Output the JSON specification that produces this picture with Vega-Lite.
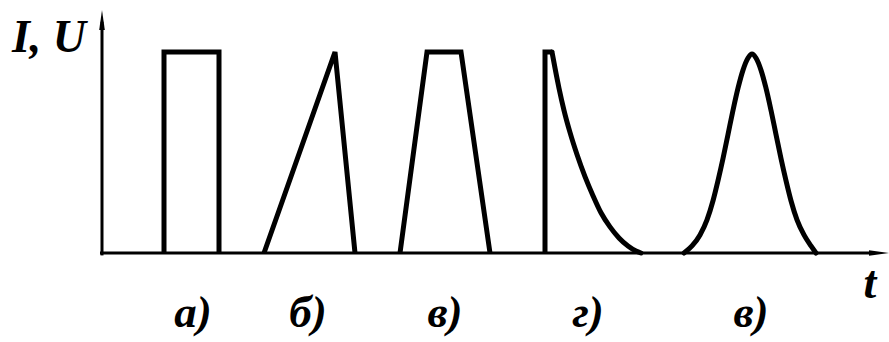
{
  "$schema": "https://vega.github.io/schema/vega-lite/v6.json",
  "width": 889,
  "height": 342,
  "autosize": {"type": "fit", "contains": "padding"},
  "padding": 0,
  "background": "white",
  "config": {"view": {"stroke": null}},
  "datasets": {
    "axes": [
      {"axis": "I", "t": 102, "v": -0.012, "t2": 102, "v2": 1.15},
      {"axis": "t", "t": 100, "v": 0, "t2": 872, "v2": 0}
    ],
    "arrows": [
      {"axis": "I", "t": 102, "v": 1.159, "dir": "up"},
      {"axis": "t", "t": 879, "v": 0, "dir": "right"}
    ],
    "straight": [
      {"pulse": "а", "i": 0, "t": 164, "v": 0},
      {"pulse": "а", "i": 1, "t": 164, "v": 1},
      {"pulse": "а", "i": 2, "t": 219, "v": 1},
      {"pulse": "а", "i": 3, "t": 219, "v": 0},
      {"pulse": "б", "i": 0, "t": 264, "v": 0},
      {"pulse": "б", "i": 1, "t": 335, "v": 1},
      {"pulse": "б", "i": 2, "t": 355, "v": 0},
      {"pulse": "в", "i": 0, "t": 400, "v": 0},
      {"pulse": "в", "i": 1, "t": 427, "v": 1},
      {"pulse": "в", "i": 2, "t": 461, "v": 1},
      {"pulse": "в", "i": 3, "t": 490, "v": 0},
      {"pulse": "г", "i": 0, "t": 545, "v": 0},
      {"pulse": "г", "i": 1, "t": 545, "v": 1},
      {"pulse": "г", "i": 2, "t": 552, "v": 1}
    ],
    "curves": [
      {"pulse": "г", "t": 552, "v": 1.0},
      {"pulse": "г", "t": 555, "v": 0.92},
      {"pulse": "г", "t": 559, "v": 0.82},
      {"pulse": "г", "t": 564, "v": 0.71},
      {"pulse": "г", "t": 570, "v": 0.6},
      {"pulse": "г", "t": 577, "v": 0.49},
      {"pulse": "г", "t": 585, "v": 0.38},
      {"pulse": "г", "t": 593, "v": 0.285},
      {"pulse": "г", "t": 601, "v": 0.2},
      {"pulse": "г", "t": 610, "v": 0.13},
      {"pulse": "г", "t": 619, "v": 0.075},
      {"pulse": "г", "t": 628, "v": 0.035},
      {"pulse": "г", "t": 636, "v": 0.01},
      {"pulse": "г", "t": 641, "v": 0.0},
      {"pulse": "д", "t": 684, "v": 0.0},
      {"pulse": "д", "t": 692, "v": 0.035},
      {"pulse": "д", "t": 700, "v": 0.09},
      {"pulse": "д", "t": 707, "v": 0.165},
      {"pulse": "д", "t": 713, "v": 0.26},
      {"pulse": "д", "t": 718, "v": 0.36},
      {"pulse": "д", "t": 723, "v": 0.47},
      {"pulse": "д", "t": 728, "v": 0.59},
      {"pulse": "д", "t": 733, "v": 0.71},
      {"pulse": "д", "t": 738, "v": 0.82},
      {"pulse": "д", "t": 743, "v": 0.91},
      {"pulse": "д", "t": 748, "v": 0.97},
      {"pulse": "д", "t": 752, "v": 0.99},
      {"pulse": "д", "t": 756, "v": 0.97},
      {"pulse": "д", "t": 761, "v": 0.91},
      {"pulse": "д", "t": 766, "v": 0.82},
      {"pulse": "д", "t": 771, "v": 0.71},
      {"pulse": "д", "t": 776, "v": 0.59},
      {"pulse": "д", "t": 781, "v": 0.47},
      {"pulse": "д", "t": 786, "v": 0.36},
      {"pulse": "д", "t": 791, "v": 0.26},
      {"pulse": "д", "t": 797, "v": 0.165},
      {"pulse": "д", "t": 804, "v": 0.09},
      {"pulse": "д", "t": 811, "v": 0.035},
      {"pulse": "д", "t": 816, "v": 0.0}
    ],
    "captions": [
      {"label": "а)", "t": 193, "v": -0.37},
      {"label": "б)", "t": 308, "v": -0.37},
      {"label": "в)", "t": 445, "v": -0.37},
      {"label": "г)", "t": 588, "v": -0.37},
      {"label": "в)", "t": 751, "v": -0.37}
    ],
    "axisTitles": [
      {"label": "I, U", "t": 49, "v": 1.0},
      {"label": "t", "t": 870, "v": -0.224}
    ]
  },
  "encoding": {
    "x": {"field": "t", "type": "quantitative", "scale": {"domain": [0, 889], "nice": false, "zero": false}, "axis": null},
    "y": {"field": "v", "type": "quantitative", "scale": {"domain": [-0.4428, 1.2587], "nice": false, "zero": false}, "axis": null}
  },
  "layer": [
    {
      "data": {"name": "axes"},
      "mark": {"type": "rule", "color": "black", "strokeWidth": 3},
      "encoding": {
        "x2": {"field": "t2"},
        "y2": {"field": "v2"}
      }
    },
    {
      "data": {"name": "arrows"},
      "transform": [{"filter": "datum.dir === 'up'"}],
      "mark": {"type": "point", "filled": true, "color": "black", "opacity": 1, "size": 400, "shape": "M0,-1L0.28,1L-0.28,1Z"}
    },
    {
      "data": {"name": "arrows"},
      "transform": [{"filter": "datum.dir === 'right'"}],
      "mark": {"type": "point", "filled": true, "color": "black", "opacity": 1, "size": 400, "shape": "M1,0L-1,-0.28L-1,0.28Z"}
    },
    {
      "data": {"name": "straight"},
      "mark": {"type": "line", "color": "black", "strokeWidth": 5, "strokeJoin": "miter", "strokeCap": "butt"},
      "encoding": {
        "detail": {"field": "pulse"},
        "order": {"field": "i", "type": "quantitative"}
      }
    },
    {
      "data": {"name": "curves"},
      "mark": {"type": "line", "color": "black", "strokeWidth": 5, "interpolate": "monotone", "strokeCap": "round"},
      "encoding": {
        "detail": {"field": "pulse"}
      }
    },
    {
      "data": {"name": "captions"},
      "mark": {"type": "text", "font": "Liberation Serif", "fontStyle": "italic", "fontWeight": "bold", "fontSize": 45, "align": "center", "baseline": "alphabetic", "color": "black"},
      "encoding": {"text": {"field": "label"}}
    },
    {
      "data": {"name": "axisTitles"},
      "mark": {"type": "text", "font": "Liberation Serif", "fontStyle": "italic", "fontWeight": "bold", "fontSize": 46, "align": "center", "baseline": "alphabetic", "color": "black"},
      "encoding": {"text": {"field": "label"}}
    }
  ]
}
